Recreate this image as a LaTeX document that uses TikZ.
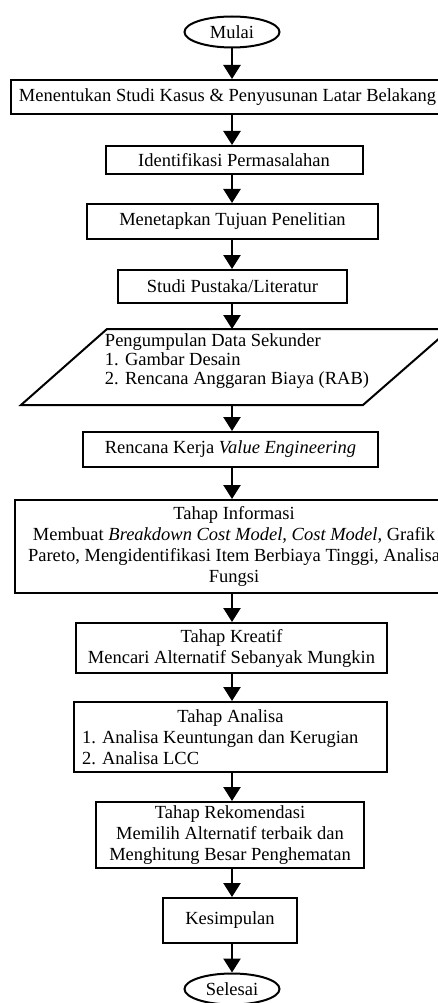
\documentclass[tikz,border=0pt]{standalone}
\usepackage{fontspec}
\setmainfont{Liberation Serif}[Ligatures=CommonOff]
\usetikzlibrary{shapes.geometric,arrows.meta}
\begin{document}
\begin{tikzpicture}[x=1pt,y=-1pt,line width=2pt,font=\fontsize{18.5}{21}\selectfont,
  box/.style={draw,rectangle,inner sep=0pt,align=center},
  term/.style={draw,ellipse,inner sep=0pt,minimum width=95pt,minimum height=31pt},
  arr/.style={line width=2.4pt,-{Triangle[length=14pt,width=17pt]}}]
\useasboundingbox(0,0)rectangle(438,1003);
\coordinate(axis)at(232,0);
\node[term](mulai)at(232,32){Mulai};
\node[box,minimum width=434pt,minimum height=34pt](kasus)at(227.5,97){Menentukan Studi Kasus \& Penyusunan Latar Belakang};
\node[box,minimum width=257pt,minimum height=28pt](masalah)at(234,160){Identifikasi Permasalahan};
\node[box,minimum width=291pt,minimum height=35pt](tujuan)at(232.5,221.5){Menetapkan Tujuan Penelitian};
\node[box,minimum width=229pt,minimum height=33pt](pustaka)at(232.5,286.5){Studi Pustaka/Literatur};
\node[minimum width=342pt,minimum height=74pt,inner sep=0pt](data)at(232,367){};
\draw([xshift=-211pt]data.south)--([xshift=131pt]data.south)--([xshift=218pt]data.north)--([xshift=-125pt]data.north)--cycle;
\node[align=left,font=\fontsize{18.5}{19}\selectfont](datatxt)at([xshift=5pt,yshift=6pt]data.center){Pengumpulan Data Sekunder\\1. Gambar Desain\\2. Rencana Anggaran Biaya (RAB)};
\node[box,minimum width=295pt,minimum height=35pt](rencana)at(230.5,449.5){Rencana Kerja \textit{Value Engineering}};
\node[box,minimum width=438pt,minimum height=93pt](informasi)at(234,546.5){Tahap Informasi\\Membuat \textit{Breakdown Cost Model, Cost Model}, Grafik\\Pareto, Mengidentifikasi Item Berbiaya Tinggi, Analisa\\Fungsi};
\node[box,minimum width=311pt,minimum height=50pt](kreatif)at(231.5,648){Tahap Kreatif\\Mencari Alternatif Sebanyak Mungkin};
\node[box,align=left,minimum width=313pt,minimum height=70pt](analisa)at(230.5,737){\makebox[297pt]{Tahap Analisa}\\1. Analisa Keuntungan dan Kerugian\\2. Analisa LCC};
\node[box,minimum width=268pt,minimum height=66pt](rekomendasi)at(230,835){Tahap Rekomendasi\\Memilih Alternatif terbaik dan\\Menghitung Besar Penghematan};
\node[box,minimum width=134pt,minimum height=45pt](kesimpulan)at(230,920.5){Kesimpulan};
\node[term](selesai)at(232,989){Selesai};
\foreach \a/\b in {mulai/kasus,kasus/masalah,masalah/tujuan,tujuan/pustaka,pustaka/data,data/rencana,rencana/informasi,informasi/kreatif,kreatif/analisa,analisa/rekomendasi,rekomendasi/kesimpulan,kesimpulan/selesai}
\draw[arr](\a.south-|axis)--(\b.north-|axis);
\end{tikzpicture}
\end{document}
